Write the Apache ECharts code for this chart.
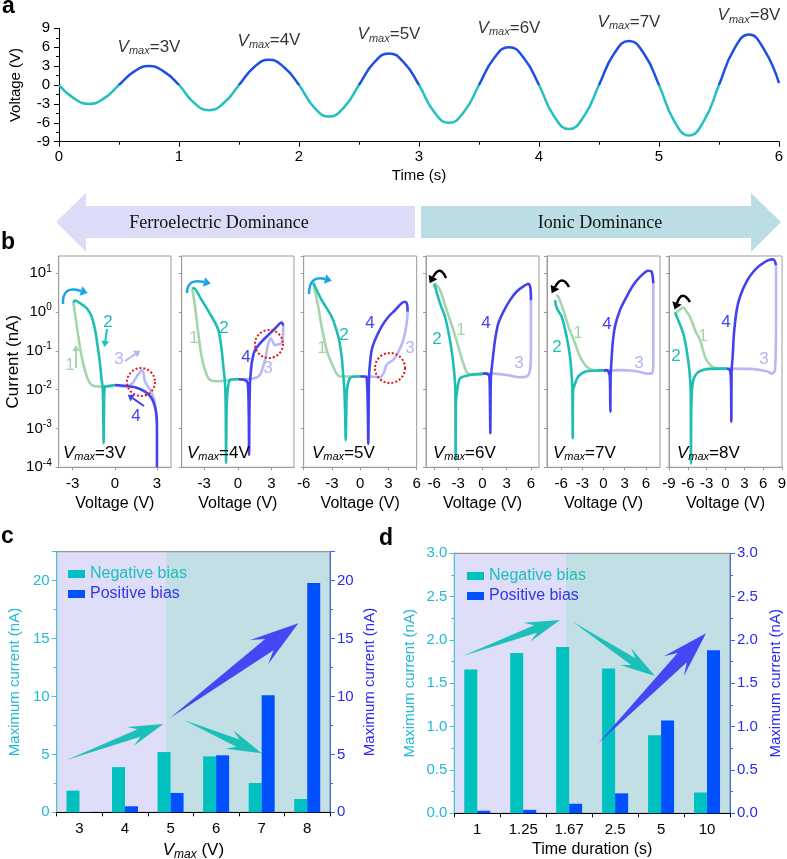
<!DOCTYPE html>
<html><head><meta charset="utf-8">
<script src="https://cdn.jsdelivr.net/npm/echarts@6/dist/echarts.min.js"></script>
<style>html,body{margin:0;padding:0;background:#fff}#c{width:787px;height:859px}</style>
</head><body><div id="c"></div>
<script>
const F = '"Liberation Sans", Arial, sans-serif';
const SERIF = '"Liberation Serif", "Times New Roman", serif';

// ---------- Panel a: voltage waveform ----------
const waveT = [0,0.125,0.25,0.375,0.5,0.625,0.75,0.875,1,1.125,1.25,1.375,1.5,1.625,1.75,1.875,2,2.125,2.25,2.375,2.5,2.625,2.75,2.875,3,3.125,3.25,3.375,3.5,3.625,3.75,3.875,4,4.125,4.25,4.375,4.5,4.625,4.75,4.875,5,5.125,5.25,5.375,5.5,5.625,5.75,5.875,6];
const waveV = [0,-2.12,-3,-2.12,0,2.12,3,2.12, 0,-2.83,-4,-2.83,0,2.83,4,2.83, 0,-3.54,-5,-3.54,0,3.54,5,3.54, 0,-4.24,-6,-4.24,0,4.24,6,4.24, 0,-4.95,-7,-4.95,0,4.95,7,4.95, 0,-5.66,-8,-5.66,0,5.66,8,5.66, 0.3];
const peakT = [0.75,1.75,2.75,3.75,4.75,5.75];
const peakV = [3,4,5,6,7,8];

// ---------- Panel b: I-V curves (V in volts, I in nA) ----------
const bVmax = [3,4,5,6,7,8];
const bRange = [4,5,6,7,8,9];
const bTicks = [[-3,0,3],[-3,0,3],[-6,-3,0,3,6],[-6,-3,0,3,6],[-6,-3,0,3,6],[-9,-6,-3,0,3,6,9]];

const p1gV = [0,-0.5,-1.0,-1.65,-2.0,-2.36,-2.6,-2.84,-2.96];
const p1gI = [0.0126,0.012,0.012,0.0132,0.022,0.071,0.23,0.93,1.74];
const p1tV = [-2.96,-2.85,-2.48,-2.0,-1.65,-1.41,-1.22,-1.06,-0.94,-0.87,-0.83,-0.8,-0.77,-0.72,-0.4,0];
const p1tI = [1.74,2.0,1.7,1.26,0.76,0.35,0.129,0.048,0.0178,0.012,0.0032,0.00042,0.0032,0.012,0.0126,0.0132];
const p1lV = [0,0.72,1.2,1.56,1.96,2.15,2.5,2.81,2.93,2.98];
const p1lI = [0.0132,0.012,0.014,0.022,0.032,0.0162,0.01,0.0055,0.0025,0.00135];
const p1bV = [3.0,3.0,2.98,2.86,2.62,2.15,1.44,0.72,0];
const p1bI = [0.0001,0.001,0.002,0.0036,0.006,0.0089,0.0115,0.0126,0.0132];

const p2gV = [0,-1.0,-1.74,-2.33,-2.77,-3.22,-3.52,-3.81,-4.04];
const p2gI = [0.0186,0.0174,0.0166,0.017,0.024,0.071,0.28,1.38,3.9];
const p2tV = [-4.04,-3.95,-3.22,-2.33,-1.74,-1.44,-1.29,-1.14,-1.08,-1.05,-1.0,-0.9,-0.7,-0.3,0];
const p2tI = [3.9,4.2,2.04,0.76,0.35,0.105,0.039,0.0145,0.0032,0.00013,0.0032,0.01,0.0178,0.0186,0.0186];
const p2lV = [0,0.8,1.53,1.97,2.42,2.72,2.95,3.31,3.6,3.9,4.02,4.05];
const p2lI = [0.0186,0.0186,0.02,0.024,0.059,0.158,0.21,0.141,0.148,0.158,0.25,0.45];
const p2bV = [4.05,3.9,3.31,2.72,2.12,1.53,1.29,1.17,1.08,1.03,1.0,0.97,0.88,0.64,0.04];
const p2bI = [0.45,0.54,0.38,0.26,0.174,0.105,0.059,0.032,0.0145,0.0025,0.00021,0.0025,0.0145,0.0178,0.0186];

const p3gV = [0,-1.0,-2.14,-2.5,-3.03,-3.56,-4.1,-4.45,-4.98];
const p3gI = [0.022,0.022,0.022,0.026,0.048,0.105,0.43,1.38,5.5];
const p3tV = [-4.98,-4.09,-3.03,-2.32,-1.97,-1.79,-1.68,-1.6,-1.54,-1.48,-1.4,-1.08,-0.55,0];
const p3tI = [5.75,2.04,0.76,0.23,0.071,0.022,0.01,0.0025,0.0005,0.0025,0.01,0.02,0.022,0.022];
const p3lV = [0,1.0,2.1,2.46,2.81,3.16,3.52,4.05,4.58,4.93,5.04];
const p3lI = [0.022,0.022,0.021,0.026,0.044,0.052,0.059,0.095,0.19,0.51,1.02];
const p3bV = [5.04,4.98,4.76,4.4,3.7,3.0,2.28,1.57,1.22,1.04,0.94,0.9,0.86,0.8,0.69,0.51,0];
const p3bI = [1.02,1.58,1.86,1.7,1.12,0.76,0.43,0.19,0.105,0.048,0.022,0.004,0.0004,0.004,0.02,0.022,0.022];

const p4gV = [0,-0.72,-1.76,-2.38,-3.0,-3.62,-4.44,-5.27,-5.89];
const p4gI = [0.024,0.025,0.026,0.048,0.129,0.35,1.12,3.7,5.5];
const p4tV = [-6.0,-5.89,-5.27,-4.65,-4.03,-3.62,-3.4,-3.35,-3.33,-3.3,-3.12,-2.79,-1.96,-1.14,0];
const p4tI = [5.4,4.6,1.7,0.76,0.19,0.048,0.0145,0.0045,0.00016,0.0045,0.01,0.0195,0.023,0.0245,0.026];
const p4lV = [0,1.34,3.0,4.65,5.48,5.89,6.0,6.0];
const p4lI = [0.026,0.026,0.024,0.021,0.022,0.032,0.105,2.04];
const p4bV = [6.0,5.95,5.68,5.06,4.24,3.41,2.58,1.96,1.55,1.26,1.05,1.0,0.97,0.93,0.85,0.52,0];
const p4bI = [2.04,4.0,5.4,4.6,3.4,2.04,1.02,0.51,0.19,0.059,0.022,0.004,0.00076,0.004,0.022,0.026,0.026];

const p5gV = [0,-1.44,-2.38,-3.33,-4.03,-4.98,-5.68,-6.4,-6.72];
const p5gI = [0.031,0.032,0.039,0.071,0.158,0.43,1.12,2.5,2.75];
const p5tV = [-6.87,-6.6,-5.92,-5.21,-4.74,-4.5,-4.41,-4.36,-4.3,-4.17,-3.56,-2.38,-0.97,0];
const p5tI = [2.04,1.26,0.76,0.23,0.071,0.022,0.01,0.00056,0.01,0.012,0.022,0.03,0.031,0.032];
const p5lV = [0,2.33,4.69,6.1,6.82,7.05,7.05,7.05];
const p5lI = [0.031,0.032,0.03,0.026,0.026,0.048,1.12,5.5];
const p5bV = [7.05,6.82,6.34,5.17,4.22,3.28,2.33,1.63,1.3,1.11,1.01,0.97,0.93,0.83,0.45,0];
const p5bI = [5.5,11.0,11.7,8.1,5.0,2.5,1.12,0.43,0.158,0.048,0.022,0.0027,0.0126,0.026,0.032,0.031];

const p6gV = [0,-1.41,-2.47,-3.27,-4.06,-4.87,-5.66,-6.19,-6.72,-7.25,-7.78];
const p6gI = [0.035,0.035,0.044,0.071,0.19,0.35,0.76,1.02,1.32,1.17,0.98];
const p6tV = [-8.06,-7.8,-6.72,-6.19,-5.76,-5.55,-5.52,-5.5,-5.45,-5.23,-4.59,-3.0,-0.88,0.19];
const p6tI = [1.0,0.79,0.28,0.105,0.032,0.01,0.0016,0.000126,0.0032,0.0145,0.026,0.034,0.035,0.035];
const p6lV = [0,4.43,6.56,7.36,7.89,8.05,8.05];
const p6lI = [0.035,0.034,0.03,0.026,0.032,0.76,16.2];
const p6bV = [8.05,7.62,6.83,5.5,4.43,3.37,2.31,1.78,1.35,1.14,0.98,0.93,0.88,0.72,0.19];
const p6bI = [16.2,22.9,21.9,16.2,11.0,6.2,2.5,1.12,0.28,0.071,0.032,0.0015,0.0126,0.032,0.035];

// ---------- Panel c ----------
const cCats = ['3','4','5','6','7','8'];
const cNeg = [1.87,3.9,5.2,4.83,2.53,1.15];
const cPos = [0.02,0.52,1.67,4.92,10.1,19.8];

// ---------- Panel d ----------
const dCats = ['1','1.25','1.67','2.5','5','10'];
const dNeg = [1.66,1.85,1.92,1.67,0.9,0.24];
const dPos = [0.03,0.04,0.11,0.23,1.07,1.88];

// ---------- styling ----------
const TEAL = '#1dbfb4', BLUE = '#4343ee', GREEN = '#a5d6aa', LAV = '#b8b8f6';
const WTEAL = '#22c0c0', WBLUE = '#1d4fe6';
const BAR_T = '#00c0c0', BAR_B = '#0050ff';
const AX_T = '#22b8d6', AX_B = '#2a2af0';

const zip = (a, b) => a.map((v, k) => [v, b[k]]);
const bSets = [
  [p1gV,p1gI,p1tV,p1tI,p1lV,p1lI,p1bV,p1bI],
  [p2gV,p2gI,p2tV,p2tI,p2lV,p2lI,p2bV,p2bI],
  [p3gV,p3gI,p3tV,p3tI,p3lV,p3lI,p3bV,p3bI],
  [p4gV,p4gI,p4tV,p4tI,p4lV,p4lI,p4bV,p4bI],
  [p5gV,p5gI,p5tV,p5tI,p5lV,p5lI,p5bV,p5bI],
  [p6gV,p6gI,p6tV,p6tI,p6lV,p6lI,p6bV,p6bI]
];

const bLeft = [58.7,181.7,303.7,426,547,669];
const bWidth = [112.3,112.3,113,113,113,113];

const grids = [{left:59, top:28.3, width:720, height:113.4, outerBoundsMode:'none', containLabel:false}];
bLeft.forEach((l,i)=>grids.push({left:l, top:256, width:bWidth[i], height:211.3, show:true, borderColor:'#9c9c9c', borderWidth:1, backgroundColor:'transparent', outerBoundsMode:'none', containLabel:false}));
grids.push({left:56.7, top:551.7, width:273.3, height:260.6, show:true, borderColor:'#808080', borderWidth:1, backgroundColor:'transparent', outerBoundsMode:'none', containLabel:false});
grids.push({left:454.3, top:553.3, width:275.7, height:260, show:true, borderColor:'#808080', borderWidth:1, backgroundColor:'transparent', outerBoundsMode:'none', containLabel:false});

const blk = {color:'#000', width:1};
const xAxes = [{
  type:'value', gridIndex:0, min:0, max:6, interval:1,
  axisLine:{show:true, onZero:false, lineStyle:blk}, axisTick:{show:true, length:5, lineStyle:blk},
  minorTick:{show:true, splitNumber:2, length:3, lineStyle:blk},
  axisLabel:{fontSize:15, color:'#000', margin:8, fontFamily:F}, splitLine:{show:false},
  name:'Time (s)', nameLocation:'middle', nameGap:27, nameTextStyle:{fontSize:15, color:'#000', fontFamily:F}
}];
const yAxes = [{
  type:'value', gridIndex:0, min:-9, max:9, interval:3,
  axisLine:{show:true, onZero:false, lineStyle:blk}, axisTick:{show:true, length:5, lineStyle:blk},
  minorTick:{show:true, splitNumber:2, length:3, lineStyle:blk},
  axisLabel:{fontSize:15, color:'#000', margin:9, fontFamily:F}, splitLine:{show:false},
  name:'Voltage (V)', nameLocation:'middle', nameGap:36, nameTextStyle:{fontSize:15, color:'#000', fontFamily:F}
}];
const gray = {color:'#9c9c9c', width:1};
for (let i=0;i<6;i++){
  xAxes.push({
    type:'value', gridIndex:i+1, min:-bRange[i], max:bRange[i],
    axisLine:{show:true, onZero:false, lineStyle:gray},
    axisTick:{show:true, length:3, customValues:bTicks[i], lineStyle:gray},
    axisLabel:{customValues:bTicks[i], fontSize:15, color:'#000', margin:9, fontFamily:F},
    splitLine:{show:false},
    name:'Voltage (V)', nameLocation:'middle', nameGap:28, nameTextStyle:{fontSize:16, color:'#000', fontFamily:F}
  });
  yAxes.push({
    type:'log', logBase:10, gridIndex:i+1, min:0.0001, max:28,
    axisLine:{show:true, onZero:false, lineStyle:gray},
    axisTick:{show:true, length:3, lineStyle:gray},
    axisLabel:{show:i===0, margin:7, showMaxLabel:false,
      formatter:function(v){const lg=Math.log10(v);const e=Math.round(lg);if(Math.abs(lg-e)>0.01)return '';return '{b|10}{s|'+e+'}';},
      rich:{b:{fontSize:15, color:'#000', fontFamily:F}, s:{fontSize:10, color:'#000', fontFamily:F, padding:[0,0,9,0]}}},
    splitLine:{show:false},
    name: i===0 ? 'Current (nA)' : '', nameLocation:'middle', nameGap:37, nameTextStyle:{fontSize:17, color:'#000', fontFamily:F}
  });
}
// panel c axes
xAxes.push({
  type:'category', gridIndex:7, data:cCats,
  axisLine:{show:true, lineStyle:blk}, axisTick:{show:true, length:4, lineStyle:blk},
  axisLabel:{fontSize:15, color:'#000', margin:9, fontFamily:F},
  name:'{v|V}{m|max}{e| (V)}', nameLocation:'middle', nameGap:28,
  nameTextStyle:{rich:{v:{fontSize:17, fontStyle:'italic', color:'#000', fontFamily:F}, m:{fontSize:12, fontStyle:'italic', color:'#000', fontFamily:F, padding:[8,0,0,0]}, e:{fontSize:17, color:'#000', fontFamily:F}}}
});
xAxes.push({
  type:'category', gridIndex:8, data:dCats,
  axisLine:{show:true, lineStyle:blk}, axisTick:{show:true, length:4, lineStyle:blk},
  axisLabel:{fontSize:15, color:'#000', margin:9, fontFamily:F},
  name:'Time duration (s)', nameLocation:'middle', nameGap:28, nameTextStyle:{fontSize:16, color:'#000', fontFamily:F}
});
function barY(grid, pos, max, interval, col, axcol, gap){
  return {
    type:'value', gridIndex:grid, position:pos, min:0, max:max, interval:interval,
    axisLine:{show:true, lineStyle:{color:axcol, width:1}}, axisTick:{show:true, length:5, lineStyle:{color:axcol}},
    minorTick:{show:true, splitNumber:2, length:3, lineStyle:{color:axcol}},
    axisLabel:{fontSize:15, color:col, margin:7, fontFamily:F, showMaxLabel: max % interval === 0,
      formatter: interval < 1 ? (v => v.toFixed(1)) : (v => String(v))},
    splitLine:{show:false},
    name:'Maximum current (nA)', nameLocation:'middle', nameGap:gap, nameRotate:90,
    nameTextStyle:{fontSize:15, color:col, fontFamily:F}
  };
}
yAxes.push(barY(7,'left',22.5,5,AX_T,'#3ec6dc',34));
yAxes.push(barY(7,'right',22.5,5,AX_B,'#3a6cf2',32));
yAxes.push(barY(8,'left',3,0.5,AX_T,'#3ec6dc',37));
yAxes.push(barY(8,'right',3,0.5,AX_B,'#3a6cf2',38));

// ---------- series ----------
const series = [];
const waveGrad = new echarts.graphic.LinearGradient(0,0,0,1,[
  {offset:0,color:WBLUE},{offset:0.5,color:WBLUE},{offset:0.5,color:WTEAL},{offset:1,color:WTEAL}]);
series.push({type:'line', xAxisIndex:0, yAxisIndex:0, data:zip(waveT,waveV), smooth:0.5, symbol:'none', lineStyle:{width:2.5, color:waveGrad}, z:3});
series.push({type:'scatter', xAxisIndex:0, yAxisIndex:0, data:zip(peakT,peakV), symbolSize:1, itemStyle:{color:'rgba(0,0,0,0)'},
  label:{show:true, position:'top', distance:9, formatter:p=>'{v|V}{m|max}{e|='+peakV[p.dataIndex]+'V}',
    rich:{v:{fontSize:17, fontStyle:'italic', color:'#000', fontFamily:F}, m:{fontSize:11, fontStyle:'italic', color:'#000', fontFamily:F, padding:[8,0,0,0]}, e:{fontSize:17, color:'#000', fontFamily:F}}}});
function curve(gi, V, I, color, z){
  return {type:'line', xAxisIndex:gi, yAxisIndex:gi, data:zip(V,I), symbol:'none', smooth:0.3,
    lineStyle:{color:color, width:2.6}, z:z, silent:true};
}
bSets.forEach((s,i)=>{
  const gi=i+1;
  series.push(curve(gi,s[0],s[1],GREEN,2));
  series.push(curve(gi,s[4],s[5],LAV,2));
  series.push(curve(gi,s[2],s[3],TEAL,3));
  series.push(curve(gi,s[6],s[7],BLUE,3));
});
series.push({type:'bar', name:'Negative bias', xAxisIndex:7, yAxisIndex:7, data:cNeg, barWidth:13, barGap:'0%', itemStyle:{color:BAR_T}, z:3});
series.push({type:'bar', name:'Positive bias', xAxisIndex:7, yAxisIndex:8, data:cPos, barWidth:13, barGap:'0%', itemStyle:{color:BAR_B}, z:3});
series.push({type:'bar', name:'Negative bias', xAxisIndex:8, yAxisIndex:9, data:dNeg, barWidth:13, barGap:'0%', itemStyle:{color:BAR_T}, z:3});
series.push({type:'bar', name:'Positive bias', xAxisIndex:8, yAxisIndex:10, data:dPos, barWidth:13, barGap:'0%', itemStyle:{color:BAR_B}, z:3});

function legendAt(left, top){
  return {left:left, top:top, padding:0, orient:'vertical', itemWidth:17, itemHeight:8, itemGap:4, icon:'rect', selectedMode:false,
    textStyle:{fontSize:16, fontFamily:F},
    data:[{name:'Negative bias', textStyle:{color:'#1cc0b8'}}, {name:'Positive bias', textStyle:{color:'#3535f0'}}]};
}

// ---------- annotations ----------
const G = [];
function txt(x,y,t,opts){
  G.push({type:'text', x:x, y:y, z:60, style:Object.assign({text:t, fill:'#000', fontFamily:F, fontSize:16, textAlign:'center', align:'center', textVerticalAlign:'middle', verticalAlign:'middle'}, opts||{})});
}
function poly(points, fill, z){ G.push({type:'polygon', z:z==null?60:z, shape:{points:points}, style:{fill:fill}}); }
function headAt(ex,ey,ux,uy,color,len,w){
  const nx=-uy, ny=ux;
  poly([[ex+ux*len,ey+uy*len],[ex+nx*w,ey+ny*w],[ex-nx*w,ey-ny*w]],color);
}
function straightArrow(x0,y0,x1,y1,color){
  const dx=x1-x0, dy=y1-y0, L=Math.hypot(dx,dy), ux=dx/L, uy=dy/L;
  G.push({type:'line', z:60, shape:{x1:x0,y1:y0,x2:x1-ux*2,y2:y1-uy*2}, style:{stroke:color, lineWidth:2}});
  headAt(x1-ux*2,y1-uy*2,ux,uy,color,6,4);
}
function hook(S,C,E,color){
  G.push({type:'bezierCurve', z:60, shape:{x1:S[0],y1:S[1],x2:E[0],y2:E[1],cpx1:C[0],cpy1:C[1]}, style:{stroke:color, lineWidth:2.5, fill:'none'}});
  const dx=E[0]-C[0], dy=E[1]-C[1], L=Math.hypot(dx,dy);
  headAt(E[0],E[1],dx/L,dy/L,color,7,5);
}
function taper(x0,y0,x1,y1,shaftW,headW,headL,color){
  const dx=x1-x0, dy=y1-y0, L=Math.hypot(dx,dy), ux=dx/L, uy=dy/L, nx=-uy, ny=ux;
  const bx=x1-ux*headL, by=y1-uy*headL, notch=headL*0.35;
  poly([[x0,y0],[bx+nx*shaftW/2,by+ny*shaftW/2],[bx-ux*notch+nx*headW/2,by-uy*notch+ny*headW/2],[x1,y1],
        [bx-ux*notch-nx*headW/2,by-uy*notch-ny*headW/2],[bx-nx*shaftW/2,by-ny*shaftW/2]],color,40);
}
function vmaxText(x,y,n){
  G.push({type:'text', x:x, y:y, z:60, style:{text:'{v|V}{m|max}{e|='+n+'V}', textVerticalAlign:'middle', verticalAlign:'middle',
    rich:{v:{fontSize:17, fontStyle:'italic', fill:'#000', fontFamily:F}, m:{fontSize:11, fontStyle:'italic', fill:'#000', fontFamily:F, padding:[8,0,0,0]}, e:{fontSize:17, fill:'#000', fontFamily:F}}}});
}
function circ(cx,cy,r){
  G.push({type:'circle', z:61, shape:{cx:cx,cy:cy,r:r}, style:{fill:'none', stroke:'#e01818', lineWidth:2, lineDash:[2,2]}});
}

// panel letters
txt(2,7,'a',{fontSize:23, fontWeight:'bold', textAlign:'left', align:'left'});
txt(1,243,'b',{fontSize:23, fontWeight:'bold', textAlign:'left', align:'left'});
txt(1,537,'c',{fontSize:23, fontWeight:'bold', textAlign:'left', align:'left'});
txt(379,539,'d',{fontSize:23, fontWeight:'bold', textAlign:'left', align:'left'});

// dominance arrows
poly([[56,222],[86,193],[86,206],[415,206],[415,238],[86,238],[86,252]],'#dcdcf8',10);
poly([[421,206],[751,206],[751,193],[781,222],[751,252],[751,238],[421,238]],'#bbdee5',10);
txt(219,223,'Ferroelectric Dominance',{fontFamily:SERIF, fontSize:18, fill:'#111'});
txt(600,223,'Ionic Dominance',{fontFamily:SERIF, fontSize:18, fill:'#111'});

// panel b labels
const numPos = [
  [[70,365],[108,322],[119,359],[136,416]],
  [[194,338],[224,328],[268,368],[246,357]],
  [[322,348],[344,335],[410,348],[370,323]],
  [[461,330],[437,339],[519,363],[486,323]],
  [[578,333],[557,347],[639,363],[607,324]],
  [[703,336],[676,356],[764,359],[726,322]]
];
const numCol = [GREEN, TEAL, '#b4b4f4', BLUE];
numPos.forEach(pl=>pl.forEach((p,k)=>txt(p[0],p[1],String(k+1),{fontSize:17, fill:numCol[k]})));
straightArrow(107,329,105,343,TEAL);
straightArrow(76,368,76,349,GREEN);
straightArrow(125,361,137,353,'#b4b4f4');
straightArrow(144,406,131,397,BLUE);
circ(141,382,14); circ(269,344,14); circ(390,368,15);
hook([63,304],[62,285],[81,291],'#1aa6e6');
hook([187,293],[187,278],[204,282],'#1aa6e6');
hook([309,294],[309,275],[325,279],'#1aa6e6');
hook([446,278],[440,264],[433,277],'#000');
hook([569,287],[562,274],[555,287],'#000');
hook([690,302],[682,289],[677,303],'#000');
const vmaxX = [63,187,312,433,553,677];
vmaxX.forEach((x,i)=>vmaxText(x,453,bVmax[i]));

// panel c, d backgrounds
G.push({type:'rect', z:-5, shape:{x:56.7,y:551.7,width:109.3,height:260.6}, style:{fill:'#dedef9'}});
G.push({type:'rect', z:-5, shape:{x:166,y:551.7,width:164,height:260.6}, style:{fill:'#c2dfe6'}});
G.push({type:'rect', z:-5, shape:{x:454.3,y:553.3,width:111.4,height:260}, style:{fill:'#dedef9'}});
G.push({type:'rect', z:-5, shape:{x:565.7,y:553.3,width:164.3,height:260}, style:{fill:'#c2dfe6'}});
// trend arrows
taper(66.7,760,163.3,724,8,20,26,'#1cc0b8');
taper(184,720,261.7,753.3,8,20,26,'#1cc0b8');
taper(170,718,298.3,623.3,14,30,36,'#4646f4');
taper(462.7,656,560,620,8,20,26,'#1cc0b8');
taper(572.7,621.7,655,676,8,20,26,'#1cc0b8');
taper(598.3,743.3,706,633.3,13,28,34,'#4646f4');

const option = {
  animation:false,
  backgroundColor:'#fff',
  textStyle:{fontFamily:F},
  grid:grids, xAxis:xAxes, yAxis:yAxes,
  legend:[legendAt(68,566), legendAt(467,568)],
  series:series,
  graphic:{elements:G}
};
const chart = echarts.init(document.getElementById('c'), null, {renderer:'canvas'});
chart.setOption(option);
</script></body></html>
